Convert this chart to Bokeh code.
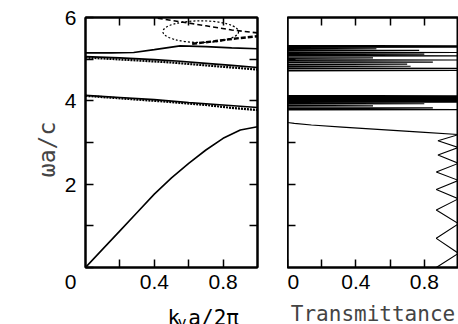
from bokeh.plotting import figure
from bokeh.layouts import row, column
from bokeh.models import LinearAxis, FixedTicker, Range1d
from bokeh.core.properties import value
from bokeh.embed import file_html
from bokeh.resources import INLINE

# ---------------- data ----------------
# lowest band (solid)
band1_k = [0.0, 0.1, 0.2, 0.3, 0.4, 0.5, 0.6, 0.7, 0.8, 0.9, 1.0]
band1_w = [0.0, 0.44, 0.88, 1.32, 1.76, 2.15, 2.5, 2.82, 3.1, 3.3, 3.38]
# second band, solid + dotted
band2_k = [0.0, 0.2, 0.4, 0.6, 0.8, 1.0]
band2_w = [4.13, 4.08, 4.03, 3.96, 3.90, 3.84]
band2d_k = [0.0, 0.3, 0.5, 0.7, 0.85, 1.0]
band2d_w = [4.12, 4.03, 3.97, 3.90, 3.83, 3.78]
# upper band pair
band3a_k = [0.0, 0.15, 0.28, 0.4, 0.55, 0.7, 0.85, 1.0]
band3a_w = [5.15, 5.15, 5.16, 5.23, 5.32, 5.30, 5.27, 5.25]
band3b_k = [0.0, 0.2, 0.4, 0.55, 0.7, 0.85, 1.0]
band3b_w = [5.06, 5.03, 4.99, 4.95, 4.90, 4.85, 4.80]
band3bd_k = [0.0, 0.3, 0.5, 0.7, 0.85, 1.0]
band3bd_w = [5.04, 4.97, 4.92, 4.85, 4.80, 4.75]
# top features
loop_k = [0.67]
loop_w = [5.66]
loop_dk = [0.44]
loop_dw = [0.52]
top_k = [0.42, 0.55, 0.7, 0.85, 1.0]
top_w = [5.98, 5.90, 5.80, 5.70, 5.63]
low_k = [0.62, 0.75, 0.88, 1.0]
low_w = [5.37, 5.43, 5.50, 5.55]

# transmittance spectrum (omega, T): fringes, band edge, gap, resonance bands
trans_w = [0.00, 0.34, 0.70, 1.05, 1.38, 1.65, 1.87, 2.09, 2.29, 2.50, 2.70, 2.88, 3.04, 3.19,
           3.25, 3.31, 3.37, 3.42, 3.46, 3.48,
           3.780, 3.790, 3.800, 3.820, 3.830, 3.840, 3.870, 3.880, 3.890, 3.920, 3.930, 3.940,
           3.960, 3.970, 3.980, 3.990, 4.000, 4.010, 4.020, 4.030, 4.040, 4.050, 4.060, 4.070,
           4.080, 4.090, 4.100, 4.110, 4.120, 4.130,
           4.720, 4.730, 4.740, 4.770, 4.780, 4.790, 4.820, 4.830, 4.840, 4.870, 4.880, 4.890,
           4.920, 4.930, 4.940, 4.970, 4.980, 4.990, 5.020, 5.030, 5.040, 5.070, 5.080, 5.090,
           5.110, 5.120, 5.130, 5.150, 5.160, 5.170, 5.200, 5.210, 5.220, 5.240, 5.250, 5.260,
           5.280, 5.290, 5.300, 5.310, 5.320, 5.330,
           6.00]
trans_T = [0.87, 1.00, 0.87, 1.00, 0.87, 1.00, 0.87, 1.00, 0.87, 1.00, 0.88, 1.00, 0.88, 1.00,
           0.78, 0.55, 0.32, 0.14, 0.04, 0.00,
           0.0, 1.00, 0.0, 0.0, 0.85, 0.0, 0.0, 0.50, 0.0, 0.0, 0.80, 0.0,
           0.0, 1.00, 0.0, 0.0, 1.00, 0.0, 0.0, 1.00, 0.0, 0.0, 1.00, 0.0,
           0.0, 1.00, 0.0, 0.0, 1.00, 0.0,
           0.0, 1.00, 0.0, 0.0, 1.00, 0.0, 0.0, 0.72, 0.0, 0.0, 0.70, 0.0,
           0.0, 0.85, 0.0, 0.0, 1.00, 0.0, 0.0, 0.50, 0.0, 0.0, 1.00, 0.0,
           0.0, 0.80, 0.0, 0.0, 1.00, 0.0, 0.0, 0.77, 0.0, 0.0, 0.52, 0.0,
           0.0, 1.00, 0.0, 0.0, 1.00, 0.0,
           0.0]
assert len(trans_w) == len(trans_T)

# tick positions
y_major = [0, 2, 4, 6]
y_minor = [1, 3, 5]
x_major_left = [0.4, 0.8]
x_major_right = [0, 0.4, 0.8]
x_minor = [0.2, 0.6]
x_all = [0.2, 0.4, 0.6, 0.8]
y_all = [1, 2, 3, 4, 5]

# x-axis label of the left panel: k_y a/2pi (pieces and their k-axis positions)
xlabel_parts = ["k", "y", "a/2\u03c0"]
xlabel_pos = [0.477, 0.535, 0.598]
xlabel_base = [7, 2, 7]
xlabel_size = ["21px", "15px", "21px"]

TICK_FONT = "Liberation Sans"
LABEL_FONT = "DejaVu Sans Mono"

# layout constants (pixels)
LEFT = 85
TOP = 17
FW1 = 172
GAP = 30
FW2 = 171
FH = 250
BOT1 = 33
H_LAB = 24


def style(ax, major, minor, show_labels):
    ax.ticker = FixedTicker(ticks=major, minor_ticks=minor)
    ax.axis_line_color = "black"
    ax.axis_line_width = 2
    ax.major_tick_in = 8
    ax.major_tick_out = 0
    ax.minor_tick_in = 8
    ax.minor_tick_out = 0
    ax.major_tick_line_width = 1.5
    ax.minor_tick_line_width = 1.5
    ax.major_tick_line_color = "black"
    ax.minor_tick_line_color = "black"
    if show_labels:
        ax.major_label_text_font = TICK_FONT
        ax.major_label_text_font_size = "21px"
        ax.major_label_text_color = "black"
        ax.major_label_standoff = 7
    else:
        ax.major_label_text_font_size = "0px"
        ax.major_label_standoff = 0


def make_fig(fw, left, right, bottom):
    p = figure(frame_width=fw, frame_height=FH,
               x_range=Range1d(0, 1), y_range=Range1d(0, 6),
               output_backend="svg", toolbar_location=None,
               x_axis_location=None, y_axis_location=None,
               min_border_left=left, min_border_right=right,
               min_border_top=TOP, min_border_bottom=bottom,
               background_fill_color="white", border_fill_color="white")
    p.grid.visible = False
    p.outline_line_color = "black"
    p.outline_line_width = 2
    return p


# ---------------- left panel: band structure ----------------
p1 = make_fig(FW1, LEFT, GAP, BOT1)
ax1_b = LinearAxis()
style(ax1_b, x_major_left, x_minor, True)
p1.add_layout(ax1_b, "below")
ax1_l = LinearAxis()
style(ax1_l, y_major, y_minor, True)
ax1_l.major_label_standoff = 9
ax1_l.major_label_overrides = {0: "\n0"}
ax1_l.axis_label = "\u03c9a/c\u00a0"
ax1_l.axis_label_text_font = LABEL_FONT
ax1_l.axis_label_text_font_size = "23px"
ax1_l.axis_label_text_font_style = "normal"
ax1_l.axis_label_standoff = 2
p1.add_layout(ax1_l, "left")
ax1_t = LinearAxis()
style(ax1_t, x_all, [], False)
p1.add_layout(ax1_t, "above")
ax1_r = LinearAxis()
style(ax1_r, y_all, [], False)
p1.add_layout(ax1_r, "right")

p1.line(band1_k, band1_w, line_color="black", line_width=1.6)
p1.line(band2_k, band2_w, line_color="black", line_width=1.6)
p1.line(band2d_k, band2d_w, line_color="black", line_width=2.2, line_dash="2 1")
p1.line(band3a_k, band3a_w, line_color="black", line_width=1.6)
p1.line(band3b_k, band3b_w, line_color="black", line_width=1.6)
p1.line(band3bd_k, band3bd_w, line_color="black", line_width=2.2, line_dash="2 1")
p1.ellipse(x=loop_k, y=loop_w, width=loop_dk, height=loop_dw,
           fill_alpha=0, line_color="black", line_width=1.2, line_dash="2 2")
p1.line(top_k, top_w, line_color="black", line_width=1.6, line_dash="5 3")
p1.line(low_k, low_w, line_color="black", line_width=2.4, line_dash="5 2")

# strip under the left panel (same horizontal frame as p1) carrying k_y a/2pi
pl = figure(frame_width=FW1, frame_height=H_LAB,
            x_range=Range1d(0, 1), y_range=Range1d(0, H_LAB),
            output_backend="svg", toolbar_location=None,
            x_axis_location=None, y_axis_location=None,
            min_border_left=LEFT, min_border_right=GAP,
            min_border_top=0, min_border_bottom=0,
            outline_line_color=None, background_fill_color="white",
            border_fill_color="white")
pl.title.visible = False
pl.grid.visible = False
for txt, xp, yb, fs in zip(xlabel_parts, xlabel_pos, xlabel_base, xlabel_size):
    pl.text(x=[xp], y=[yb], text=[txt], text_font=value(LABEL_FONT),
            text_font_size=fs, text_baseline="alphabetic", text_align="left",
            text_color="black")

# ---------------- right panel: transmittance ----------------
p2 = make_fig(FW2, 0, 0, 57)
ax2_b = LinearAxis()
style(ax2_b, x_major_right, x_minor, True)
ax2_b.axis_label = "Transmittance"
ax2_b.axis_label_text_font = LABEL_FONT
ax2_b.axis_label_text_font_size = "21px"
ax2_b.axis_label_text_font_style = "normal"
ax2_b.axis_label_standoff = 10
p2.add_layout(ax2_b, "below")
ax2_l = LinearAxis()
style(ax2_l, y_all, [], False)
p2.add_layout(ax2_l, "left")
ax2_t = LinearAxis()
style(ax2_t, x_all, [], False)
p2.add_layout(ax2_t, "above")

p2.line(trans_T, trans_w, line_color="black", line_width=1.1)

layout = row(column(p1, pl), p2)
open("out.html", "w").write(file_html(layout, INLINE))
